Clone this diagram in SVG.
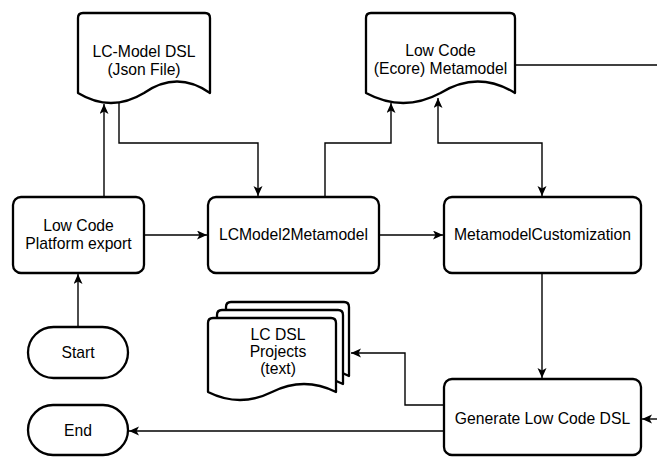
<svg xmlns="http://www.w3.org/2000/svg" width="657" height="457" viewBox="0 0 657 457">
<style>
.shape{fill:#fff;stroke:#000;stroke-width:2.3;stroke-linejoin:round}
.conn{fill:none;stroke:#000;stroke-width:1.4}
text{font-family:"Liberation Sans",Arial,Helvetica,sans-serif;font-size:15.7px;fill:#000;text-anchor:middle}
</style>
<defs>
<marker id="arr" markerUnits="userSpaceOnUse" markerWidth="12" markerHeight="10" refX="10" refY="4.5" orient="auto-start-reverse" viewBox="0 0 12 10">
<path d="M0,0 L10,4.5 L0,9 L2.5,4.5 z" fill="#000"/>
</marker>
</defs>
<rect width="657" height="457" fill="#fff"/>
<g id="connectors">
<path class="conn" d="M78,327 V274" marker-end="url(#arr)"/>
<path class="conn" d="M104,197 V104" marker-end="url(#arr)"/>
<path class="conn" d="M119,102 V143 H258 V196" marker-end="url(#arr)"/>
<path class="conn" d="M325,197 V143 H391 V103" marker-end="url(#arr)"/>
<path class="conn" d="M438,98 V143 H542 V196" marker-start="url(#arr)" marker-end="url(#arr)"/>
<path class="conn" d="M144,235 H207" marker-end="url(#arr)"/>
<path class="conn" d="M379,235 H443" marker-end="url(#arr)"/>
<path class="conn" d="M542,273 V378" marker-end="url(#arr)"/>
<path class="conn" d="M515,65 H657"/>
<path class="conn" d="M444,405 H405 V353 H351" marker-end="url(#arr)"/>
<path class="conn" d="M444,431 H129" marker-end="url(#arr)"/>
<path class="conn" d="M657,419 H642" marker-end="url(#arr)"/>
</g>
<g id="lcmodel-dsl">
<path class="shape" d="M78,18 Q78,13 83,13 H205 Q210,13 210,18 V93 Q177,70 144,93 Q111,113 78,93 Z"/>
<text x="144" y="57">LC-Model DSL</text>
<text x="144" y="75">(Json File)</text>
</g>
<g id="ecore-metamodel">
<path class="shape" d="M366,18 Q366,13 371,13 H510 Q515,13 515,18 V93 Q477.75,70 440.5,93 Q403.25,113 366,93 Z"/>
<text x="440.5" y="56">Low Code</text>
<text x="440.5" y="74">(Ecore) Metamodel</text>
</g>
<g id="platform-export">
<rect class="shape" x="13" y="197" width="131" height="76" rx="8"/>
<text x="78.5" y="231">Low Code</text>
<text x="78.5" y="249">Platform export</text>
</g>
<g id="lcmodel2metamodel">
<rect class="shape" x="208" y="197" width="171" height="76" rx="8"/>
<text x="293.5" y="240">LCModel2Metamodel</text>
</g>
<g id="metamodel-customization">
<rect class="shape" x="444" y="197" width="197" height="76" rx="8"/>
<text x="542.5" y="240">MetamodelCustomization</text>
</g>
<g id="generate-dsl">
<rect class="shape" x="444" y="379" width="197" height="76" rx="8"/>
<text x="542.5" y="424">Generate Low Code DSL</text>
</g>
<g id="start">
<rect class="shape" x="28" y="327" width="100" height="51" rx="25.5"/>
<text x="78" y="358">Start</text>
</g>
<g id="end">
<rect class="shape" x="28" y="405" width="100" height="50" rx="25"/>
<text x="78" y="436">End</text>
</g>
<g id="lc-dsl-projects">
<path class="shape" d="M226,307 Q226,302 231,302 H344 Q349,302 349,307 V376 Q318,360 287.5,376 Q256,392 226,376 Z"/>
<path class="shape" d="M217,315 Q217,310 222,310 H338 Q343,310 343,315 V384 Q311,368 280,384 Q248,400 217,384 Z"/>
<path class="shape" d="M208,323 Q208,318 213,318 H331 Q336,318 336,323 V392 Q304,376 272,392 Q240,408 208,392 Z"/>
<text x="278" y="340">LC DSL</text>
<text x="278" y="357">Projects</text>
<text x="278" y="374">(text)</text>
</g>
</svg>
